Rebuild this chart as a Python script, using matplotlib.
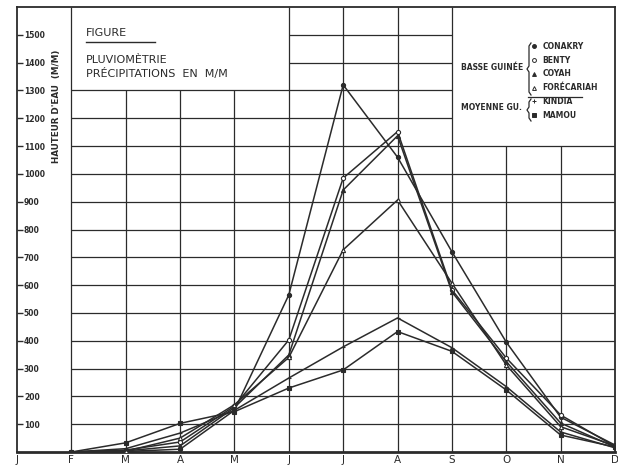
import matplotlib.pyplot as plt
import matplotlib.lines as mlines

# months (J .. D) and rainfall in mm, values from F to D
months = ['J', 'F', 'M', 'A', 'M', 'J', 'J', 'A', 'S', 'O', 'N', 'D']
x_pos = list(range(1, 12))

conakry = [0, 2, 10, 150, 565, 1320, 1060, 720, 395, 125, 25]
benty = [0, 7, 36, 165, 403, 985, 1152, 583, 338, 133, 20]
coyah = [0, 4, 22, 160, 349, 942, 1137, 576, 325, 104, 18]
forecariah = [0, 3, 50, 170, 340, 727, 906, 607, 313, 91, 22]
kindia = [0, 12, 68, 150, 266, 378, 482, 375, 235, 72, 15]
mamou = [0, 33, 103, 145, 230, 295, 433, 362, 223, 61, 18]

y_ticks = list(range(100, 1600, 100))

ink = '#2b2b2b'
plt.rcParams['font.family'] = ['DejaVu Sans']

fig = plt.figure(figsize=(6.18, 4.66), dpi=100)
fig.patch.set_facecolor('white')
ax = fig.add_axes([17 / 618, 14 / 466, 598 / 618, 445 / 466])
ax.set_xlim(0, 11)
ax.set_ylim(0, 1600)

# helper: pixel position -> axes fraction
def axx(px):
    return (px - 17) / 598.0

def axy(py):
    return (452 - py) / 445.0

# grid, leaving room for the title box and the legend box
for y in y_ticks:
    x0 = 5 if y > 1300 else 1
    x1 = 8 if y > 1100 else 11
    ax.hlines(y, x0, x1, color=ink, lw=0.9, zorder=1)
for x in range(1, 11):
    if x in (2, 3, 4):
        top = 1300
    elif x in (9, 10):
        top = 1100
    else:
        top = 1600
    ax.vlines(x, 0, top, color=ink, lw=0.9, zorder=1)

for s in ax.spines.values():
    s.set_color(ink)
    s.set_linewidth(1.3)
ax.spines['bottom'].set_linewidth(2.0)

ax.set_xticks(range(12))
ax.set_xticklabels(months, fontsize=7.5, color=ink)
ax.tick_params(axis='x', length=0, pad=2)

ax.set_yticks(y_ticks)
ax.set_yticklabels([str(v) for v in y_ticks], fontsize=5.5, color=ink,
                   fontweight='bold')
ax.tick_params(axis='y', direction='in', length=4, width=1, pad=-5, colors=ink)
for lab in ax.get_yticklabels():
    lab.set_horizontalalignment('left')

ax.text(axx(56), axy(106), "HAUTEUR D'EAU  (M/M)", transform=ax.transAxes,
        rotation=90, ha='center', va='center', fontsize=6.3,
        fontweight='bold', color=ink)

# series
series = [
    (conakry, 'CONAKRY', 'o', ink),
    (benty, 'BENTY', 'o', 'white'),
    (coyah, 'COYAH', '^', ink),
    (forecariah, 'FORÉCARIAH', '^', 'white'),
    (kindia, 'KINDIA', '+', ink),
    (mamou, 'MAMOU', 's', ink),
]
handles = []
for vals, name, mk, fc in series:
    ax.plot(x_pos, vals, color=ink, lw=1.1, zorder=3, marker=mk,
            markersize=3, markerfacecolor=fc, markeredgecolor=ink,
            markeredgewidth=0.8)
    handles.append(mlines.Line2D([], [], color=ink, lw=0, marker=mk,
                                 markersize=2.8, markerfacecolor=fc,
                                 markeredgecolor=ink, markeredgewidth=0.7,
                                 label=name))

leg = ax.legend(handles=handles, loc='upper left',
                bbox_to_anchor=(axx(531), axy(42)), frameon=False,
                fontsize=5.5, handlelength=0.8, handletextpad=0.7,
                labelspacing=0.62, borderpad=0, borderaxespad=0)
for t in leg.get_texts():
    t.set_color(ink)
    t.set_fontweight('bold')

ax.text(axx(523), axy(68), 'BASSE GUINÉE', transform=ax.transAxes,
        ha='right', va='center', fontsize=5.5, fontweight='bold', color=ink)
ax.text(axx(522), axy(107), 'MOYENNE GU.', transform=ax.transAxes,
        ha='right', va='center', fontsize=5.5, fontweight='bold', color=ink)

def brace(xc, ytop, ybot):
    ym = (ytop + ybot) / 2.0
    w = 2.0
    d = 3.0
    px = [xc + w, xc, xc, xc - w, xc, xc, xc + w]
    py = [ytop, ytop + d, ym - d, ym, ym + d, ybot - d, ybot]
    ax.plot([axx(p) for p in px], [axy(p) for p in py], transform=ax.transAxes,
            color=ink, lw=0.9, clip_on=False)

brace(529, 43, 95)
brace(529, 99, 121)
ax.plot([axx(528), axx(582)], [axy(97), axy(97)], transform=ax.transAxes,
        color=ink, lw=0.9)

# title box text
ax.text(axx(86), axy(33), 'FIGURE', transform=ax.transAxes, ha='left',
        va='center', fontsize=8, color=ink)
ax.plot([axx(86), axx(155)], [axy(42), axy(42)], transform=ax.transAxes,
        color=ink, lw=1.0)
ax.text(axx(86), axy(60), 'PLUVIOMÈTRIE', transform=ax.transAxes, ha='left',
        va='center', fontsize=8, color=ink)
ax.text(axx(86), axy(74), 'PRÉCIPITATIONS  EN  M/M', transform=ax.transAxes,
        ha='left', va='center', fontsize=8, color=ink)

fig.savefig('out.png', dpi=100, facecolor='white')
